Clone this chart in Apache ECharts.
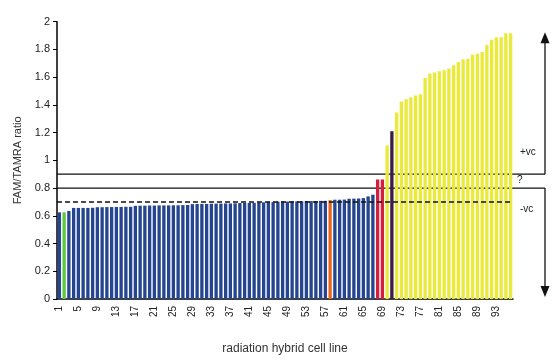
<!DOCTYPE html>
<html>
<head>
<meta charset="utf-8">
<script src="https://cdn.jsdelivr.net/npm/echarts@6/dist/echarts.min.js"></script>
<style>
  html, body { margin: 0; padding: 0; background: #fff; }
  #chart { width: 560px; height: 360px; }
</style>
</head>
<body>
<div id="chart"></div>
<script>
// cell lines 1..96
var cellLines = [];
for (var i = 1; i <= 96; i++) cellLines.push(String(i));

// FAM/TAMRA ratio per cell line
var ratios = [
    0.625, 0.625, 0.635, 0.657, 0.657, 0.657, 0.657, 0.658, 0.662, 0.662,
    0.663, 0.663, 0.664, 0.664, 0.665, 0.665, 0.672, 0.673, 0.673, 0.674,
    0.674, 0.675, 0.675, 0.675, 0.676, 0.676, 0.677, 0.678, 0.684, 0.685,
    0.686, 0.686, 0.687, 0.688, 0.688, 0.689, 0.689, 0.690, 0.692, 0.693,
    0.693, 0.694, 0.697, 0.697, 0.698, 0.699, 0.702, 0.703, 0.703, 0.704,
    0.704, 0.705, 0.706, 0.706, 0.707, 0.708, 0.708, 0.713, 0.716, 0.716,
    0.717, 0.723, 0.724, 0.725, 0.728, 0.740, 0.752, 0.862, 0.862, 1.107,
    1.210, 1.346, 1.425, 1.441, 1.455, 1.467, 1.476, 1.595, 1.626, 1.633,
    1.643, 1.650, 1.662, 1.686, 1.710, 1.729, 1.733, 1.762, 1.769, 1.781,
    1.833, 1.869, 1.888, 1.888, 1.917, 1.917
];

// highlighted cell lines
var greenLines = ['2'];
var orangeLines = ['58'];
var redLines = ['68', '69'];
var darkLines = ['71'];
var positiveFrom = 70; // yellow from here on

// cut-off lines
var upperCut = 0.9;
var lowerCut = 0.8;
var negCut = 0.7;

var yTicks = [0, 0.2, 0.4, 0.6, 0.8, 1, 1.2, 1.4, 1.6, 1.8, 2];

var myChart = echarts.init(document.getElementById('chart'));

function barColor(p) {
    var name = p.name;
    if (greenLines.indexOf(name) >= 0) return '#5cc83a';
    if (orangeLines.indexOf(name) >= 0) return '#e8661c';
    if (redLines.indexOf(name) >= 0) return '#d41f3c';
    if (darkLines.indexOf(name) >= 0) return '#3a1c48';
    if (Number(name) >= positiveFrom) return '#eaea3a';
    return '#26458f';
}

var option = {
    backgroundColor: '#fff',
    animation: false,
    grid: { left: 57, right: 47, top: 21.7, bottom: 57.3 },
    xAxis: {
        type: 'category',
        data: cellLines,
        name: 'radiation hybrid cell line',
        nameLocation: 'middle',
        nameGap: 44,
        nameTextStyle: { fontFamily: 'Liberation Sans', fontSize: 12, color: '#333' },
        axisLine: { lineStyle: { color: '#000', width: 1.5 } },
        axisTick: { interval: 0, length: 3, lineStyle: { color: '#000' } },
        axisLabel: {
            interval: 3,
            rotate: 90,
            margin: 7,
            fontFamily: 'Liberation Sans',
            fontSize: 10,
            color: '#222'
        }
    },
    yAxis: {
        type: 'value',
        min: 0,
        max: yTicks[yTicks.length - 1],
        interval: 0.2,
        name: 'FAM/TAMRA ratio',
        nameLocation: 'middle',
        nameGap: 31,
        nameTextStyle: { fontFamily: 'Liberation Sans', fontSize: 11, color: '#333' },
        axisLine: { show: true, lineStyle: { color: '#000', width: 1.5 } },
        axisTick: { show: true, length: 4, lineStyle: { color: '#000' } },
        splitLine: { show: false },
        axisLabel: {
            margin: 7,
            fontFamily: 'Liberation Sans',
            fontSize: 11,
            color: '#222',
            formatter: function (v) { return String(Math.round(v * 10) / 10); }
        }
    },
    series: [{
        type: 'bar',
        data: ratios,
        barCategoryGap: '30%',
        itemStyle: { color: barColor },
        markLine: {
            silent: true,
            symbol: 'none',
            label: { show: false },
            lineStyle: { color: '#111', width: 1.5, type: [5, 3] },
            data: [{ yAxis: negCut }]
        }
    }]
};

myChart.setOption(option);

// lines, arrows and notes to the right of the bars
var xLeft = 57, xArrow = 545;
var yUp = myChart.convertToPixel({ yAxisIndex: 0 }, upperCut);
var yLow = myChart.convertToPixel({ yAxisIndex: 0 }, lowerCut);
var yTop = myChart.convertToPixel({ yAxisIndex: 0 }, 1.91);
var yZero = myChart.convertToPixel({ yAxisIndex: 0 }, 0);
var noteStyle = { fontFamily: 'Liberation Sans', fontSize: 10, fill: '#222' };

myChart.setOption({
    graphic: [
        { type: 'line', shape: { x1: xLeft, y1: yUp, x2: xArrow, y2: yUp }, style: { stroke: '#111', lineWidth: 1.3 } },
        { type: 'line', shape: { x1: xLeft, y1: yLow, x2: xArrow, y2: yLow }, style: { stroke: '#111', lineWidth: 1.3 } },
        { type: 'line', shape: { x1: xArrow, y1: yUp, x2: xArrow, y2: yTop + 8 }, style: { stroke: '#111', lineWidth: 1.3 } },
        { type: 'polygon', shape: { points: [[xArrow - 4.5, yTop + 9], [xArrow + 4.5, yTop + 9], [xArrow, yTop - 2]] }, style: { fill: '#111' } },
        { type: 'line', shape: { x1: xArrow, y1: yLow, x2: xArrow, y2: yZero - 12 }, style: { stroke: '#111', lineWidth: 1.3 } },
        { type: 'polygon', shape: { points: [[xArrow - 4.5, yZero - 13], [xArrow + 4.5, yZero - 13], [xArrow, yZero - 2]] }, style: { fill: '#111' } },
        { type: 'text', x: 520, y: myChart.convertToPixel({ yAxisIndex: 0 }, 1.05) - 6, style: Object.assign({ text: '+vc' }, noteStyle) },
        { type: 'text', x: 517, y: myChart.convertToPixel({ yAxisIndex: 0 }, 0.85) - 6, style: Object.assign({ text: '?' }, noteStyle) },
        { type: 'text', x: 520, y: myChart.convertToPixel({ yAxisIndex: 0 }, 0.64) - 6, style: Object.assign({ text: '-vc' }, noteStyle) }
    ]
});
</script>
</body>
</html>
